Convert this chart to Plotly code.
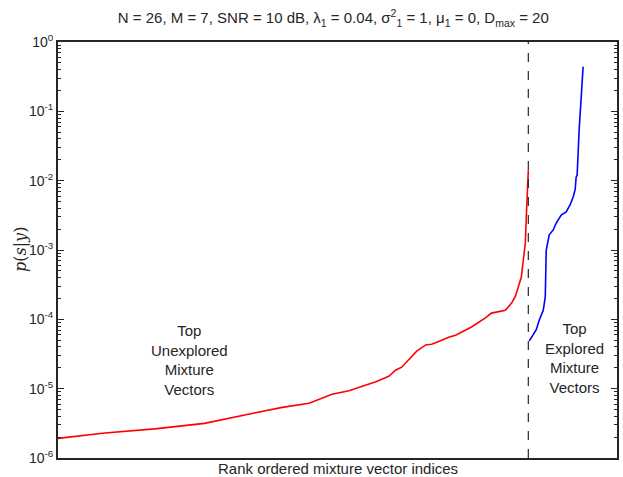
import numpy as np
import plotly.graph_objects as go

# Rank-ordered mixture vector indices and posterior probabilities
red_rank = [0, 47, 97, 147, 197, 225, 252, 275, 292, 305, 319, 332, 339, 345, 355, 360,
            369, 375, 382, 392, 399, 415, 429, 435, 449, 455, 459, 462, 465, 467, 469,
            470, 471, 472]
red_p = [1.92e-6, 2.29e-6, 2.63e-6, 3.16e-6, 4.47e-6, 5.37e-6, 6.17e-6, 8.32e-6, 9.33e-6,
         1.07e-5, 1.26e-5, 1.51e-5, 1.86e-5, 2.04e-5, 2.88e-5, 3.47e-5, 4.27e-5, 4.37e-5,
         4.79e-5, 5.50e-5, 5.89e-5, 7.76e-5, 1.05e-4, 1.23e-4, 1.35e-4, 1.70e-4, 2.14e-4,
         2.95e-4, 4.07e-4, 7.24e-4, 1.26e-3, 3.02e-3, 7.41e-3, 1.41e-2]
blue_rank = [473, 480, 483, 487, 489, 490, 493, 497, 500, 505, 510, 514, 517, 519, 520,
             521, 523, 524, 526, 527]
blue_p = [4.9e-5, 7.1e-5, 9.8e-5, 1.35e-4, 2.1e-4, 1.0e-3, 1.66e-3, 1.95e-3, 2.45e-3,
          3.2e-3, 3.55e-3, 4.5e-3, 5.8e-3, 7.4e-3, 1.12e-2, 1.2e-2, 5.4e-2, 8.9e-2, 0.2, 0.44]
split_rank = 472
x_max = 561

y_tickvals = [1e-6, 1e-5, 1e-4, 1e-3, 1e-2, 1e-1, 1]
y_ticktext = ["10<sup>-6</sup>", "10<sup>-5</sup>", "10<sup>-4</sup>", "10<sup>-3</sup>",
              "10<sup>-2</sup>", "10<sup>-1</sup>", "10<sup>0</sup>"]
minor_mult = [2, 3, 4, 5, 6, 7, 8, 9]
minor_vals = [m * d for d in y_tickvals[:-1] for m in minor_mult]

title = ("N = 26, M = 7, SNR = 10 dB, λ<sub>1</sub> = 0.04, σ<sup>2</sup><sub>1</sub> = 1, "
         "μ<sub>1</sub> = 0, D<sub>max</sub> = 20")

fig = go.Figure()
fig.add_trace(go.Scatter(x=red_rank, y=red_p, mode="lines",
                         line=dict(color="#ff0000", width=1.6), showlegend=False))
fig.add_trace(go.Scatter(x=blue_rank, y=blue_p, mode="lines",
                         line=dict(color="#0000ff", width=1.6), showlegend=False))
# invisible trace to carry the minor-tick axis
fig.add_trace(go.Scatter(x=[red_rank[0]], y=[red_p[0]], yaxis="y2", mode="markers",
                         marker=dict(opacity=0), showlegend=False, hoverinfo="skip"))
fig.add_shape(type="line", x0=split_rank, x1=split_rank, y0=0, y1=1, xref="x", yref="paper",
              line=dict(color="#262626", width=1.2, dash="dash"))

font = "Liberation Sans, Arial, Helvetica, sans-serif"
fig.add_annotation(x=132, y=-4.59, xref="x", yref="y", showarrow=False,
                   text="Top<br>Unexplored<br>Mixture<br>Vectors",
                   font=dict(size=15, color="#262626", family=font), align="center")
fig.add_annotation(x=518, y=-4.56, xref="x", yref="y", showarrow=False,
                   text="Top<br>Explored<br>Mixture<br>Vectors",
                   font=dict(size=15, color="#262626", family=font), align="center")
fig.add_annotation(x=0.5, y=0, xref="paper", yref="paper", yanchor="top", yshift=0,
                   showarrow=False, text="Rank ordered mixture vector indices",
                   font=dict(size=15, color="#262626", family=font))
fig.add_annotation(x=0, y=0.5, xref="paper", yref="paper", xanchor="center", xshift=-38,
                   showarrow=False, textangle=-90,
                   text="<i>p</i>(<i>s</i>|<i>y</i>)",
                   font=dict(size=16, color="#262626", family="DejaVu Serif, serif"))

fig.update_layout(
    width=623, height=477,
    margin=dict(l=58, r=4, t=42, b=19),
    paper_bgcolor="white", plot_bgcolor="white",
    font=dict(family=font, size=13, color="#262626"),
    title=dict(text=title, x=0.535, xanchor="center", y=0.962, yanchor="middle",
               font=dict(size=15, color="#262626", family=font)),
    xaxis=dict(range=[0, x_max], showticklabels=False, ticks="", showgrid=False,
               zeroline=False, showline=True, linecolor="#262626", linewidth=2,
               mirror=True),
    yaxis=dict(type="log", range=[-6, 0], showgrid=False, zeroline=False,
               showline=True, linecolor="#262626", linewidth=2, mirror="allticks",
               ticks="inside", ticklen=6, tickcolor="#262626", tickwidth=1,
               tickmode="array", tickvals=y_tickvals, ticktext=y_ticktext,
               tickfont=dict(size=14, color="#262626")),
    yaxis2=dict(type="log", range=[-6, 0], overlaying="y", side="left", showgrid=False,
                zeroline=False, showline=False, mirror="allticks", ticks="inside",
                ticklen=3, tickcolor="#262626", tickwidth=1, tickmode="array",
                tickvals=minor_vals, showticklabels=False),
)

fig.write_html("out.html")
